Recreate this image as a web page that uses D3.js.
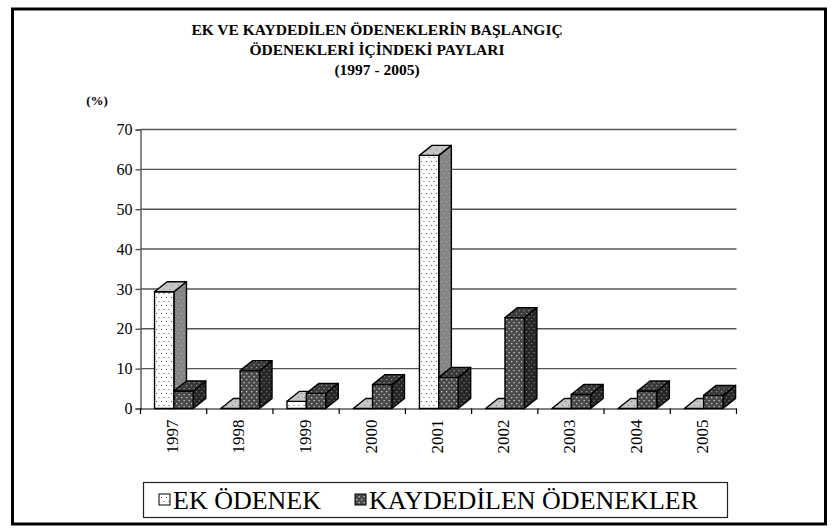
<!DOCTYPE html>
<html><head><meta charset="utf-8">
<script src="https://cdn.jsdelivr.net/npm/d3@7/dist/d3.min.js"></script>
<style>html,body{margin:0;padding:0;background:#fff;}svg{display:block;}
text{font-family:"Liberation Serif","Times New Roman",Times,"DejaVu Serif",serif;}</style>
</head><body>
<script>
const years = ["1997","1998","1999","2000","2001","2002","2003","2004","2005"];
const ekOdenek = [29.3, 0, 1.8, 0, 63.5, 0, 0, 0, 0];
const kaydedilen = [4.4, 9.5, 3.8, 6.0, 7.8, 22.8, 3.5, 4.4, 3.3];
const yTicks = [0,10,20,30,40,50,60,70];
const seriesNames = ["EK ÖDENEK","KAYDEDİLEN ÖDENEKLER"];
const titleLines = ["EK VE KAYDEDİLEN ÖDENEKLERİN BAŞLANGIÇ","ÖDENEKLERİ İÇİNDEKİ PAYLARI","(1997 - 2005)"];
const unitLabel = "(%)";

const W=835,H=532;
const FONT='"Liberation Serif","Times New Roman",Times,"DejaVu Serif",serif';
const svg=d3.select("body").append("svg").attr("width",W).attr("height",H);

const defs=svg.append("defs");
function dotPat(id,bg,dot,w,h,r){
  const p=defs.append("pattern").attr("id",id).attr("patternUnits","userSpaceOnUse").attr("width",w).attr("height",h);
  p.append("rect").attr("width",w).attr("height",h).attr("fill",bg);
  p.append("rect").attr("x",1).attr("y",1).attr("width",r).attr("height",r).attr("fill",dot);
  p.append("rect").attr("x",1+w/2).attr("y",1+h/2).attr("width",r).attr("height",r).attr("fill",dot);
}
dotPat("ekF","#ffffff","#555",5,8,1);
dotPat("ekT","#c6c6c6","#777",6,8,1);
dotPat("ekS","#858585","#b0b0b0",5,8,1);
dotPat("kaF","#4a4a4a","#c8c8c8",5,6,1.3);
dotPat("kaT","#3a3a3a","#9a9a9a",5,6,1.2);
dotPat("kaS","#262626","#7a7a7a",5,6,1.2);

// frame
svg.append("rect").attr("x",12.5).attr("y",9).attr("width",813).attr("height",515)
  .attr("fill","none").attr("stroke","#000").attr("stroke-width",3);

// title
svg.append("g").selectAll("text").data(titleLines).join("text")
  .attr("x",377).attr("y",(d,i)=>35+i*20)
  .attr("text-anchor","middle").style("font-family",FONT).attr("font-weight","bold")
  .attr("font-size",15.5).text(d=>d);

svg.append("text").attr("x",97).attr("y",105).attr("text-anchor","middle")
  .style("font-family",FONT).attr("font-weight","bold").attr("font-size",13).text(unitLabel);

const x=d3.scaleBand().domain(years).range([140.5,736.5]).paddingInner(0).paddingOuter(0);
const y=d3.scaleLinear().domain([0,70]).range([408.5,129.5]);

// gridlines
svg.append("g").selectAll("line").data(yTicks.filter(t=>t>0)).join("line")
  .attr("x1",140.5).attr("x2",736.5).attr("y1",d=>y(d)).attr("y2",d=>y(d))
  .attr("stroke","#555").attr("stroke-width",1.4);

// y axis
const ya=svg.append("g").attr("transform","translate(140.5,0)")
  .call(d3.axisLeft(y).tickValues(yTicks).tickSize(5).tickPadding(3).tickFormat(d3.format("d")));
ya.attr("font-family",null);
ya.select(".domain").attr("stroke","#555").attr("stroke-width",1.4);
ya.selectAll(".tick line").attr("stroke","#555").attr("stroke-width",1.4);
ya.selectAll(".tick text").style("font-family",FONT).attr("font-size",16).attr("fill","#000");

// x axis
const xa=svg.append("g").attr("transform","translate(0,408.5)")
  .call(d3.axisBottom(x).tickSize(0).tickPadding(0));
xa.attr("font-family",null);
xa.select(".domain").attr("stroke","#000").attr("stroke-width",1.2);
xa.selectAll(".tick text").style("font-family",FONT).attr("font-size",17).attr("fill","#000")
  .attr("text-anchor","end").attr("dominant-baseline","central")
  .attr("transform","translate(-1,11) rotate(-90)").attr("dx",0).attr("dy",0).attr("y",0).attr("x",0);
// band boundary ticks
svg.append("g").selectAll("line").data(years.concat(["end"])).join("line")
  .attr("x1",(d,i)=>x.range()[0]+i*x.bandwidth()).attr("x2",(d,i)=>x.range()[0]+i*x.bandwidth())
  .attr("y1",408.5).attr("y2",414).attr("stroke","#000").attr("stroke-width",1.2);

// bars
const bw=x.bandwidth();
const off=bw*0.212, barW=bw*0.292, dx=bw*0.19, dy=10;
const series=[{vals:ekOdenek,f:"url(#ekF)",t:"url(#ekT)",s:"url(#ekS)"},
              {vals:kaydedilen,f:"url(#kaF)",t:"url(#kaT)",s:"url(#kaS)"}];
const bg=svg.append("g").attr("stroke","#000").attr("stroke-width",1.4).attr("stroke-linejoin","round");
years.forEach((yr,i)=>{
  series.forEach((s,j)=>{
    const v=s.vals[i];
    const x0=x(yr)+off+j*barW, x1=x0+barW, y0=y(0), y1=y(v);
    bg.append("polygon").attr("points",[[x1,y1],[x1,y0],[x1+dx,y0-dy],[x1+dx,y1-dy]].join(" ")).attr("fill",s.s);
    bg.append("rect").attr("x",x0).attr("y",y1).attr("width",barW).attr("height",y0-y1).attr("fill",s.f);
    bg.append("polygon").attr("points",[[x0,y1],[x1,y1],[x1+dx,y1-dy],[x0+dx,y1-dy]].join(" ")).attr("fill",s.t);
  });
});

// legend
const lg=svg.append("g");
lg.append("rect").attr("x",143.5).attr("y",482.5).attr("width",584).attr("height",35)
  .attr("fill","#fff").attr("stroke","#222").attr("stroke-width",1.2);
const legX=[[159,173],[355,369]];
seriesNames.forEach((n,j)=>{
  lg.append("rect").attr("x",legX[j][0]).attr("y",494).attr("width",11).attr("height",11)
    .attr("fill",series[j].f).attr("stroke","#000").attr("stroke-width",1);
  lg.append("text").attr("x",legX[j][1]).attr("y",509).style("font-family",FONT).attr("font-size",26)
    .text(n);
});
</script>
</body></html>
